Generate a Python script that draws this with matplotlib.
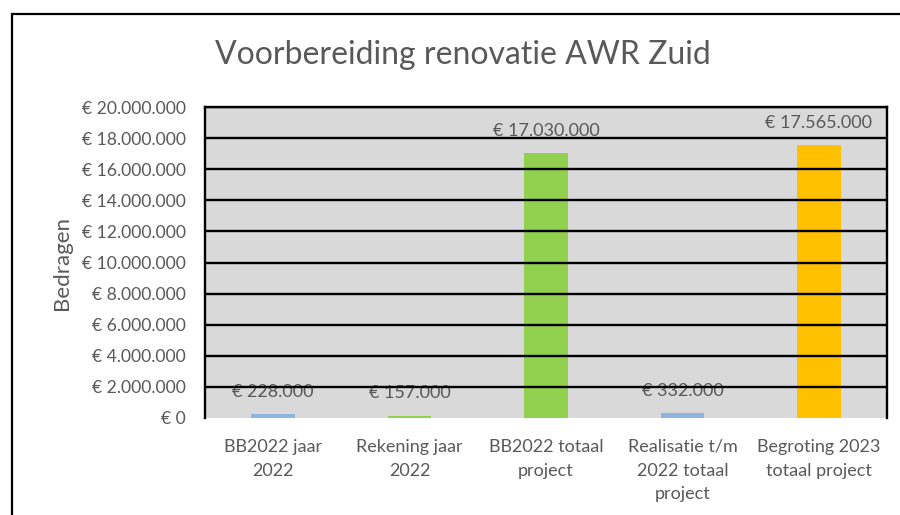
import matplotlib.pyplot as plt
from matplotlib.patches import Rectangle
from matplotlib.ticker import FuncFormatter
import numpy as np

plt.rcParams['font.family'] = ['Lato', 'DejaVu Sans']

categories = ['BB2022 jaar\n2022', 'Rekening jaar\n2022', 'BB2022 totaal\nproject',
              'Realisatie t/m\n2022 totaal\nproject', 'Begroting 2023\ntotaal project']
amounts = [228000, 157000, 17030000, 332000, 17565000]
bar_colors = ['#8DB4E2', '#92D050', '#92D050', '#8DB4E2', '#FFC000']
yticks = np.arange(0, 20000001, 2000000)

text_col = '#595959'


def euro(v):
    # Dutch style: dot as thousands separator
    return '€ ' + f'{int(v):,}'.replace(',', '.')


fig = plt.figure(figsize=(9, 5.15), dpi=100)
ax = fig.add_axes([205/900, 1 - 418/515, (887-205)/900, (418-107)/515])

# outer chart border (runs off the right and bottom edge)
fig.patches.append(Rectangle((12/900, -0.1), 1.2, 1 - 14/515 + 0.1,
                             transform=fig.transFigure, fill=False,
                             edgecolor='black', linewidth=1.6))

ax.set_facecolor('#D9D9D9')
x = np.arange(len(categories))
ax.bar(x, amounts, width=0.32, color=bar_colors, zorder=2)

for xi, v in zip(x, amounts):
    ax.annotate(euro(v), (xi, v), xytext=(0, 16), textcoords='offset points',
                ha='center', va='center', fontsize=13, color=text_col, zorder=1)

ax.set_ylim(0, 20000000)
ax.set_xlim(-0.5, len(categories) - 0.5)
ax.set_yticks(yticks)
ax.yaxis.set_major_formatter(FuncFormatter(lambda v, p: euro(v)))
ax.set_xticks(x)
ax.set_xticklabels(categories, fontsize=13, color=text_col, linespacing=1.6)
ax.tick_params(axis='y', labelsize=12.6, labelcolor=text_col, length=0, pad=14)
ax.tick_params(axis='x', length=0, pad=15)

for yv in yticks[1:]:
    ax.axhline(yv, color='black', linewidth=1.7, zorder=3)

for side in ['top', 'right', 'left']:
    ax.spines[side].set_color('black')
    ax.spines[side].set_linewidth(1.7)
    ax.spines[side].set_zorder(4)
ax.spines['bottom'].set_visible(False)

ax.set_ylabel('Bedragen', fontsize=16, color=text_col, labelpad=7)
fig.text(463/900, 1 - 55/515, 'Voorbereiding renovatie AWR Zuid',
         ha='center', va='center', fontsize=23, color=text_col)

fig.savefig('out.png', dpi=100)
